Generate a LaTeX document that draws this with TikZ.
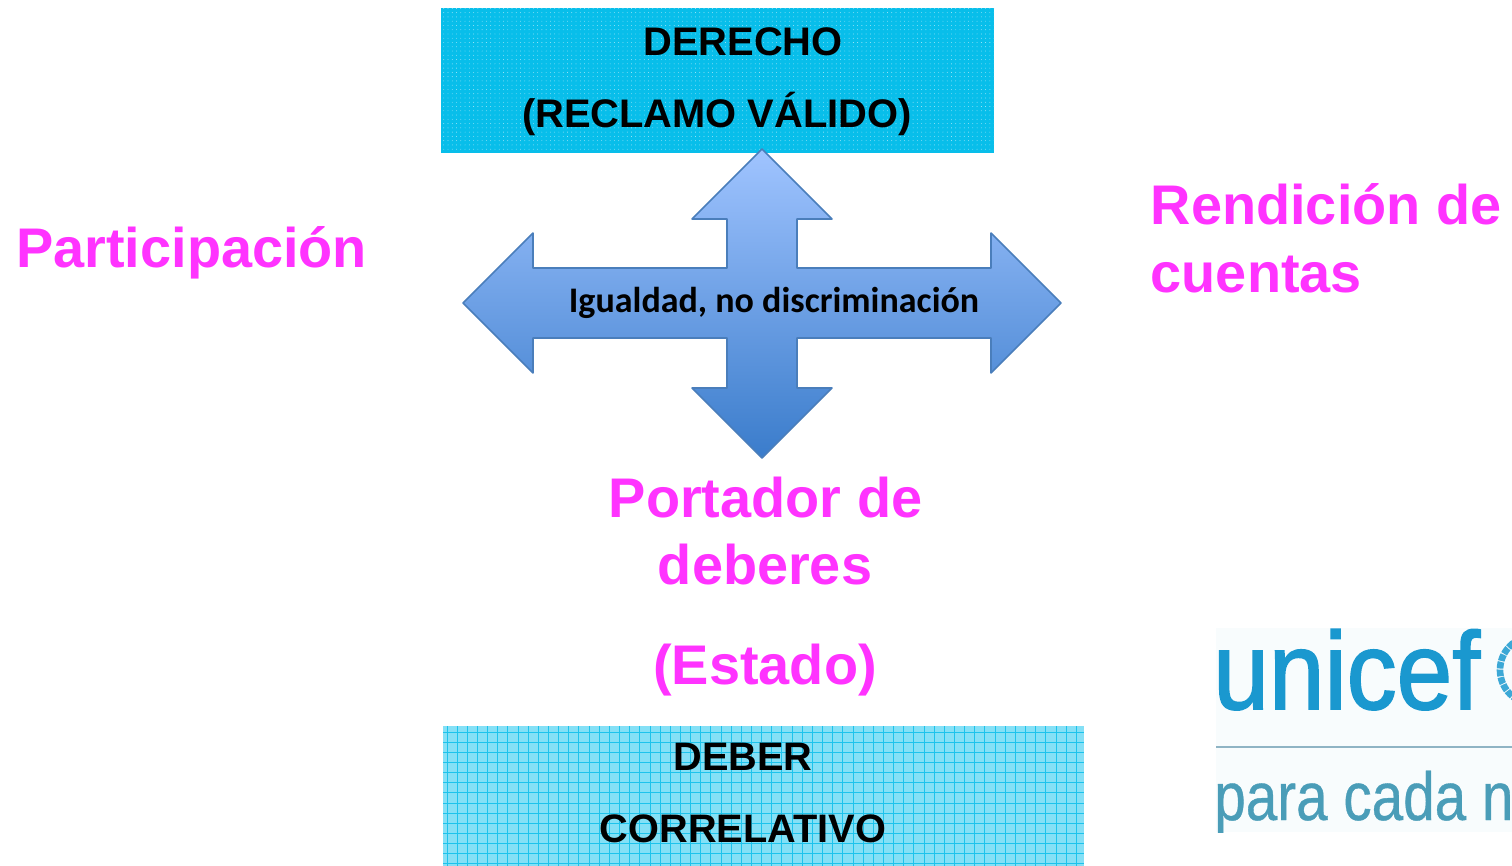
\documentclass[tikz,border=0pt]{standalone}
\usepackage{fontspec}
\setmainfont{Liberation Sans}
\newfontfamily\carlitofont{Carlito}
\newfontfamily\logofont[FakeBold=1.6]{Liberation Sans}
\newfontfamily\logofontb[FakeBold=0.6]{Liberation Sans}
\usetikzlibrary{patterns.meta}
\definecolor{pinktxt}{HTML}{FF33FF}
\definecolor{topbox}{HTML}{08BEEA}
\definecolor{botbox}{HTML}{84E0F6}
\definecolor{gridline}{HTML}{1DC3EC}
\definecolor{crossline}{HTML}{4A7EBB}
\definecolor{crosstop}{HTML}{A0C4FF}
\definecolor{crossbot}{HTML}{3A7CCB}
\definecolor{logoblue}{HTML}{1A98CF}
\definecolor{logoteal}{HTML}{4A9DB8}
\definecolor{logorule}{HTML}{8FB4C4}
\tikzset{
  boxtext/.style={anchor=base,inner sep=0pt,text=black,font=\fontsize{29.9}{32}\selectfont\bfseries},
  boxtextb/.style={anchor=base,inner sep=0pt,text=black,font=\fontsize{29.8}{32}\selectfont\bfseries},
  pinklabel/.style={anchor=base,inner sep=0pt,text=pinktxt,font=\fontsize{41.9}{46}\selectfont\bfseries},
}
\begin{document}
\begin{tikzpicture}[x=0.75pt,y=-0.75pt]
\useasboundingbox (0,0) rectangle (1512,866);
% top box
\fill[topbox] (441,8) rectangle (994,153);
\fill[pattern={Dots[distance=3.2pt,radius=0.32pt]},pattern color=white!70!topbox] (441,8) rectangle (994,153);
% bottom box
\fill[botbox] (443,726) rectangle (1084,866);
\begin{scope}
\clip (443,726) rectangle (1084,866);
\foreach \i in {0,...,63} \draw[gridline,line width=0.7pt] ({443+4+\i*10.15},726) -- ({443+4+\i*10.15},866);
\foreach \j in {0,...,14} \draw[gridline,line width=0.7pt] (443,{732+\j*10.15}) -- (1084,{732+\j*10.15});
\end{scope}
% cross arrow
\shade[top color=crosstop,bottom color=crossbot,draw=crossline,line width=1.2pt,line join=round]
 (762,149) -- (832,219) -- (797,219) -- (797,268) -- (991,268) -- (991,233) -- (1061,303)
 -- (991,373) -- (991,338) -- (797,338) -- (797,388) -- (832,388) -- (762,458) -- (692,388)
 -- (727,388) -- (727,338) -- (533,338) -- (533,373) -- (463,303) -- (533,233) -- (533,268)
 -- (727,268) -- (727,219) -- (692,219) -- cycle;
% logo
\begin{scope}
\clip (1216,628) rectangle (1512,832);
\fill[white!97!logoblue] (1216,628) rectangle (1512,832);
\draw[logoblue!85,line width=5pt,dash pattern=on 5pt off 0.8pt] (1534,670) circle (34);
\node[anchor=base west,inner sep=0pt,text=logoblue,yscale=1.1] (unicef) at (1213,709)
  {\logofont\fontsize{75}{80}\selectfont unicef};
\node[anchor=base west,inner sep=0pt,text=logoteal,yscale=1.2] (cada) at (1214,820)
  {\logofontb\fontsize{42.5}{46}\selectfont para cada n};
\coordinate (ruleA) at (1216,747);
\coordinate (ruleB) at (1512,747);
\draw[logorule,line width=1.5pt] (ruleA) -- (ruleB);
\end{scope}
% texts
\node[boxtext] (derecho) at (743,56) {DERECHO};
\node[boxtext] (reclamo) at (717,128) {(RECLAMO VÁLIDO)};
\node[boxtextb] (deber) at (743,770.5) {DEBER};
\node[boxtextb] (correl) at (743,842.5) {CORRELATIVO};
\node[anchor=base,inner sep=0pt,text=black,font=\carlitofont\fontsize{27}{30}\selectfont\bfseries] (igual) at (774,312) {Igualdad, no discriminación};
\node[pinklabel,anchor=base west] (part) at (16,267.5) {Participación};
\node[pinklabel,anchor=base west] (rend) at (1150.5,225) {Rendición de};
\node[pinklabel,anchor=base west] (cuentas) at (1150.5,292) {cuentas};
\node[pinklabel] (port) at (765.5,517.5) {Portador de};
\node[pinklabel] (deberes) at (765,584.5) {deberes};
\node[pinklabel] (estado) at (765,684.5) {(Estado)};
\end{tikzpicture}
\end{document}
